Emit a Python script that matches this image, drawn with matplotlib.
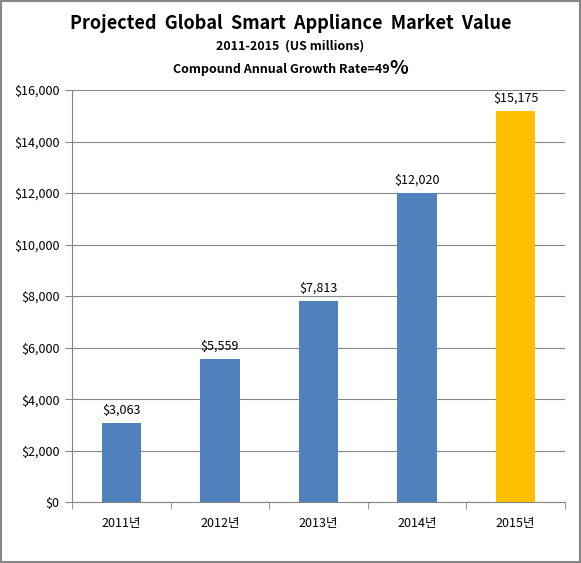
import matplotlib.pyplot as plt
from matplotlib.patches import Rectangle
from matplotlib.ticker import FuncFormatter

plt.rcParams['font.family'] = ['Noto Sans CJK KR', 'DejaVu Sans']

years = ["2011년", "2012년", "2013년", "2014년", "2015년"]
values = [3063, 5559, 7813, 12020, 15175]
colors = ["#4F81BD", "#4F81BD", "#4F81BD", "#4F81BD", "#FFC000"]

fig = plt.figure(figsize=(5.81, 5.63), dpi=100)
ax = fig.add_axes([0.124, 0.108, 0.848, 0.732])

x = range(len(years))
ax.bar(x, values, width=0.4, color=colors, zorder=3)
for i, v in enumerate(values):
    ax.text(i, v + 250, f"${v:,}", ha="center", va="bottom", fontsize=9)

ax.set_xlim(-0.5, len(years) - 0.5)
ax.set_ylim(0, 16000)
ax.set_yticks(range(0, 16001, 2000))
ax.yaxis.set_major_formatter(FuncFormatter(lambda v, p: f"${int(v):,}"))
ax.set_xticks(x)
ax.set_xticklabels(years)
ax.set_xticks([i - 0.5 for i in range(len(years) + 1)], minor=True)
ax.tick_params(axis="x", which="major", length=0, pad=11, labelsize=9)
ax.tick_params(axis="x", which="minor", length=5, color="#868686", direction="out")
ax.tick_params(axis="y", length=5, color="#868686", labelsize=9, pad=4)
ax.grid(axis="y", color="#868686", linewidth=0.8, zorder=0)
for s in ["top", "right"]:
    ax.spines[s].set_visible(False)
for s in ["left", "bottom"]:
    ax.spines[s].set_color("#868686")

fig.text(0.5, 0.958, "Projected  Global  Smart  Appliance  Market  Value",
         ha="center", va="center", fontsize=13, fontweight="bold")
fig.text(0.5, 0.918, "2011-2015  (US millions)",
         ha="center", va="center", fontsize=9, fontweight="bold")
fig.text(0.670, 0.876, "Compound Annual Growth Rate=49", ha="right", va="center",
         fontsize=9, fontweight="bold")
fig.text(0.670, 0.879, "%", ha="left", va="center", fontsize=14, fontweight="bold")

fig.patches.append(Rectangle((0.002, 0.002), 0.996, 0.996, transform=fig.transFigure,
                             fill=False, edgecolor="#868686", linewidth=1.5))

fig.savefig("out.png", dpi=100)
